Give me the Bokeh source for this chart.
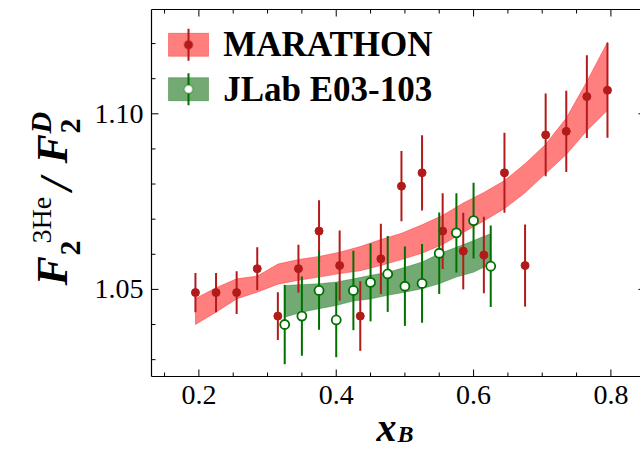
import math
import numpy as np
from bokeh.plotting import figure
from bokeh.models import (Range1d, Label, BoxAnnotation, PolyAnnotation, ColumnDataSource)
from bokeh.core.properties import value
from bokeh.embed import file_html
from bokeh.resources import INLINE

# MARATHON measurements: x_B, ratio, uncertainty
x_mar = [0.195, 0.225, 0.255, 0.285, 0.315, 0.345, 0.375, 0.405, 0.435, 0.465, 0.495,
         0.525, 0.555, 0.585, 0.615, 0.645, 0.675, 0.705, 0.735, 0.765, 0.795]
r_mar = [1.0491, 1.0491, 1.0491, 1.0559, 1.0424, 1.0559, 1.0666, 1.0568, 1.0424, 1.0587, 1.0794,
         1.0832, 1.0666, 1.0609, 1.0598, 1.0832, 1.0568, 1.0940, 1.0950, 1.1049, 1.1067]
e_mar = [0.0056, 0.0056, 0.0061, 0.0061, 0.0068, 0.0068, 0.0088, 0.0100, 0.0099, 0.0100, 0.0100,
         0.0107, 0.0108, 0.0109, 0.0109, 0.0114, 0.0117, 0.0118, 0.0116, 0.0118, 0.0135]
# MARATHON model band (lower / upper edge at each x_B)
lo_mar = [1.0400, 1.0435, 1.0473, 1.0492, 1.0515, 1.0526, 1.0535, 1.0545, 1.0553, 1.0568, 1.0585,
          1.0603, 1.0628, 1.0662, 1.0695, 1.0730, 1.0775, 1.0830, 1.0884, 1.0952, 1.1010]
hi_mar = [1.0474, 1.0505, 1.0530, 1.0538, 1.0572, 1.0585, 1.0594, 1.0606, 1.0622, 1.0642, 1.0660,
          1.0684, 1.0711, 1.0746, 1.0776, 1.0810, 1.0858, 1.0913, 1.0988, 1.1092, 1.1204]

# JLab E03-103 measurements
x_jlab = [0.325, 0.350, 0.375, 0.400, 0.425, 0.450, 0.475, 0.500, 0.525, 0.550, 0.575, 0.600, 0.625]
r_jlab = [1.0400, 1.0424, 1.0497, 1.0413, 1.0497, 1.0520, 1.0544, 1.0509, 1.0517, 1.0603, 1.0661,
          1.0696, 1.0566]
e_jlab = [0.0113, 0.0113, 0.0112, 0.0106, 0.0113, 0.0111, 0.0108, 0.0113, 0.0112, 0.0116, 0.0113,
          0.0108, 0.0116]
lo_jlab = [1.0421, 1.0435, 1.0445, 1.0454, 1.0467, 1.0473, 1.0483, 1.0492, 1.0502, 1.0516, 1.0535,
           1.0549, 1.0573]
hi_jlab = [1.0511, 1.0514, 1.0516, 1.0521, 1.0530, 1.0540, 1.0549, 1.0563, 1.0578, 1.0602, 1.0620,
           1.0639, 1.0659]

# axes: ticks and their labels
x_major = [0.2, 0.4, 0.6, 0.8]
x_major_labels = ["0.2", "0.4", "0.6", "0.8"]
x_minor = [0.15, 0.25, 0.3, 0.35, 0.45, 0.5, 0.55, 0.65, 0.7, 0.75]
y_major = [1.05, 1.10]
y_major_labels = ["1.05", "1.10"]
y_minor = [1.03, 1.04, 1.06, 1.07, 1.08, 1.09, 1.11, 1.12]

RED_FILL = "#ff0000"
RED_DARK = "#b31b1b"
GREEN_FILL = "#006400"
GREEN_DARK = "#007000"
SERIF = "Liberation Serif"

# canvas and plotting box (pixels)
W, H = 640, 449
LEFT, TOP, BOTTOM = 151, 9, 73
RIGHT_EDGE = 645          # right spine sits just past the canvas edge
# data limits of the plotting box
X0, X1 = 0.131, 0.8431
Y0, Y1 = 1.0252, 1.1297
FW, FH = W - LEFT, H - TOP - BOTTOM
KX = (X1 - X0) / FW   # data per pixel
KY = (Y1 - Y0) / FH


def cx(px):
    """canvas column -> x data value"""
    return X0 + (px - LEFT) * KX


def cy(py):
    """canvas row -> y data value"""
    return Y0 + (TOP + FH - py) * KY


# the drawing frame spans the whole canvas; the axes box is drawn inside it
p = figure(width=W, height=H, output_backend="svg", toolbar_location=None,
           x_range=Range1d(cx(0), cx(W)), y_range=Range1d(cy(H), cy(0)),
           min_border=0, x_axis_location=None, y_axis_location=None)
p.outline_line_color = None
p.xgrid.visible = False
p.ygrid.visible = False
p.background_fill_color = "white"
p.border_fill_color = "white"

XR = cx(RIGHT_EDGE)

# model bands
p.patch(x_mar + x_mar[::-1], lo_mar + hi_mar[::-1], fill_color=RED_FILL, fill_alpha=0.5,
        line_color=RED_FILL, line_alpha=0.35, line_width=1)
p.patch(x_jlab + x_jlab[::-1], lo_jlab + hi_jlab[::-1], fill_color=GREEN_FILL, fill_alpha=0.55,
        line_color=GREEN_FILL, line_alpha=0.3, line_width=1)

# data points with error bars
mar = ColumnDataSource(dict(x=x_mar, y=r_mar,
                            lo=list(np.array(r_mar) - np.array(e_mar)),
                            hi=list(np.array(r_mar) + np.array(e_mar))))
jl = ColumnDataSource(dict(x=x_jlab, y=r_jlab,
                           lo=list(np.array(r_jlab) - np.array(e_jlab)),
                           hi=list(np.array(r_jlab) + np.array(e_jlab))))

p.segment(x0="x", y0="lo", x1="x", y1="hi", source=mar, line_color=RED_DARK, line_width=2)
p.scatter(x="x", y="y", source=mar, size=8, fill_color=RED_DARK, line_color=RED_DARK)
p.segment(x0="x", y0="lo", x1="x", y1="hi", source=jl, line_color=GREEN_DARK, line_width=2)
p.scatter(x="x", y="y", source=jl, size=9, fill_color="white", line_color=GREEN_DARK,
          line_width=1.8)

# axes box: left, bottom, top and right spines
p.segment(x0=[X0, X0, X0, XR], y0=[Y0, Y0, Y1, Y0], x1=[X0, XR, XR, XR], y1=[Y1, Y0, Y1, Y1],
          line_color="black", line_width=1.2)

MAJ, MIN = 7, 4  # inward tick lengths in pixels
nxM, nxm = len(x_major), len(x_minor)
nyM, nym = len(y_major), len(y_minor)
p.segment(x0=x_major * 2, x1=x_major * 2,
          y0=[Y0] * nxM + [Y1] * nxM,
          y1=[Y0 + MAJ * KY] * nxM + [Y1 - MAJ * KY] * nxM,
          line_color="black", line_width=1)
p.segment(x0=x_minor * 2, x1=x_minor * 2,
          y0=[Y0] * nxm + [Y1] * nxm,
          y1=[Y0 + MIN * KY] * nxm + [Y1 - MIN * KY] * nxm,
          line_color="black", line_width=1)
p.segment(x0=[X0] * nyM + [XR] * nyM, x1=[X0 + MAJ * KX] * nyM + [XR - MAJ * KX] * nyM,
          y0=y_major * 2, y1=y_major * 2, line_color="black", line_width=1)
p.segment(x0=[X0] * nym + [XR] * nym, x1=[X0 + MIN * KX] * nym + [XR - MIN * KX] * nym,
          y0=y_minor * 2, y1=y_minor * 2, line_color="black", line_width=1)

# tick labels
p.text(x=x_major, y=[Y0] * nxM, text=x_major_labels, y_offset=18,
       text_font=value(SERIF), text_font_size="28px", text_color="black",
       text_align="center", text_baseline="middle")
p.text(x=[X0] * nyM, y=y_major, text=y_major_labels, x_offset=-8,
       text_font=value(SERIF), text_font_size="28px", text_color="black",
       text_align="right", text_baseline="middle")


# legend (screen units from the canvas' lower-left corner)
def circle_poly(cx0, cy0, r, n=24):
    t = np.linspace(0, 2 * math.pi, n, endpoint=False)
    return list(cx0 + r * np.cos(t)), list(cy0 + r * np.sin(t))


def legend_entry(row, fill, alpha, dark, dot_fill, text):
    y_mid = H - row
    p.add_layout(BoxAnnotation(left=168, right=208, bottom=y_mid - 11.5, top=y_mid + 11.5,
                               left_units="screen", right_units="screen",
                               bottom_units="screen", top_units="screen",
                               fill_color=fill, fill_alpha=alpha,
                               line_color=fill, line_alpha=0.35, line_width=1))
    p.add_layout(BoxAnnotation(left=187, right=189, bottom=y_mid - 16, top=y_mid + 16,
                               left_units="screen", right_units="screen",
                               bottom_units="screen", top_units="screen",
                               fill_color=dark, fill_alpha=1, line_color=None))
    xs, ys = circle_poly(188, y_mid, 4.2)
    p.add_layout(PolyAnnotation(xs=xs, ys=ys, xs_units="screen", ys_units="screen",
                                fill_color=dot_fill, fill_alpha=1, line_color=dark,
                                line_width=1.8))
    p.add_layout(Label(x=222.7, y=y_mid, x_units="screen", y_units="screen", text=text,
                       text_font=SERIF, text_font_style="bold", text_font_size="35px",
                       text_color="black", text_baseline="middle", text_align="left"))


legend_entry(44.3, RED_FILL, 0.5, RED_DARK, RED_DARK, "MARATHON")
legend_entry(88.7, GREEN_FILL, 0.55, GREEN_DARK, "white", "JLab E03-103")

# axis titles assembled from pieces; each given by its baseline start in canvas pixels
MID = 0.3375  # centre of the text box above the baseline, in em


def piece(text, bx, by, size, style, rotated=False):
    if rotated:
        px, py, angle = bx - MID * size, by, math.pi / 2
    else:
        px, py, angle = bx, by - MID * size, 0.0
    p.text(x=[cx(px)], y=[cy(py)], text=[text], angle=angle,
           text_font=value(SERIF), text_font_style=style, text_font_size=f"{size}px",
           text_color="black", text_baseline="middle", text_align="left")


piece("F", 67, 285, 44, "bold italic", True)
piece("2", 80, 255, 30, "bold", True)
piece("3He", 50, 243, 28, "normal", True)
piece("/", 72, 190, 46, "bold italic", True)
piece("F", 67, 163, 44, "bold italic", True)
piece("2", 80, 133, 30, "bold", True)
piece("D", 50, 133, 30, "bold italic", True)

piece("x", 376, 440, 40, "bold italic")
piece("B", 397, 442, 24, "bold italic")

open("out.html", "w").write(file_html(p, INLINE))
